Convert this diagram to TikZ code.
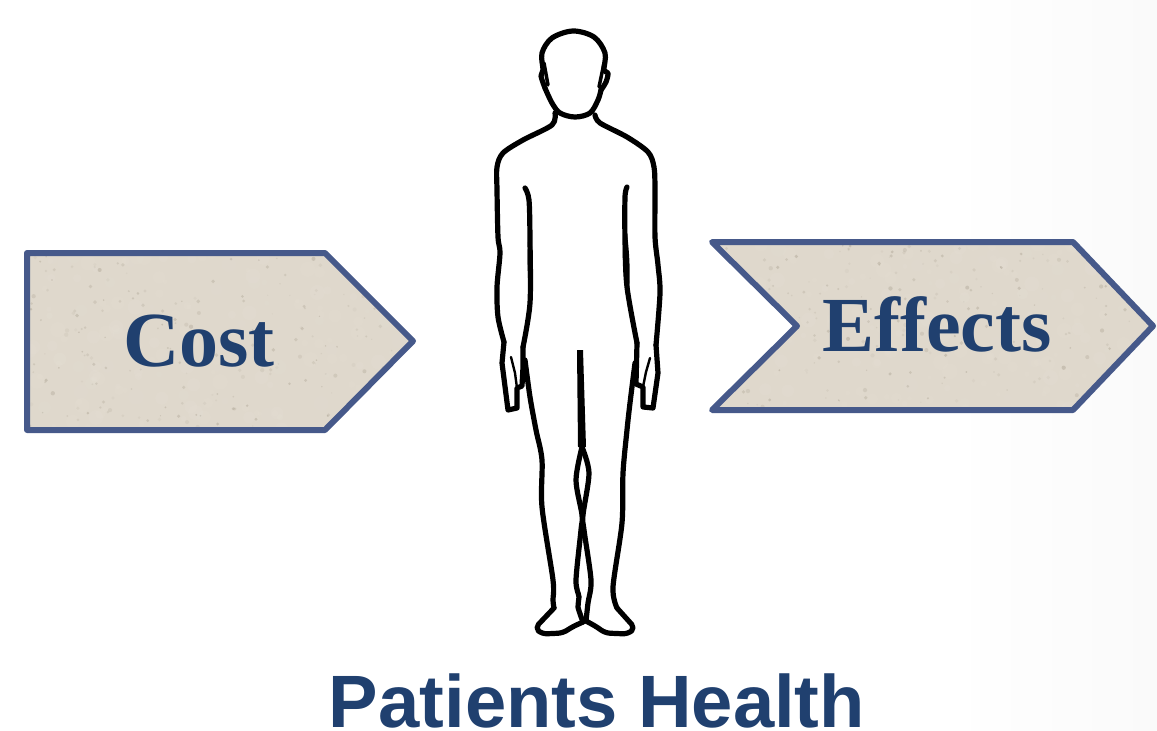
\documentclass[tikz,border=0pt]{standalone}
\usepackage{fontspec}
\setmainfont{Liberation Serif}
\setsansfont{Liberation Sans}
\definecolor{edgeblue}{HTML}{46598A}
\definecolor{textblue}{HTML}{20406F}
\definecolor{paper}{HTML}{DFD8CC}
\definecolor{speck}{HTML}{9A917F}
\definecolor{pale}{HTML}{E8E2D8}
\tikzset{
  tag/.style={draw=edgeblue,line width=6pt,line join=round},
  tagtext/.style={font=\rmfamily\bfseries\fontsize{78}{78}\selectfont,text=textblue,inner sep=0pt,anchor=base},
  titletext/.style={font=\sffamily\bfseries\fontsize{74.2}{74}\selectfont,text=textblue,inner sep=0pt,anchor=base},
  body/.style={draw=black,line width=5.2pt,line cap=round,line join=round},
  bodythin/.style={draw=black,line width=2.4pt,line cap=round}
}
\newcommand{\specks}[4]{%
  \foreach \i in {1,...,200}{%
    \pgfmathsetmacro{\sx}{#1+rnd*(#3-#1)}%
    \pgfmathsetmacro{\sy}{#2+rnd*(#4-#2)}%
    \pgfmathsetmacro{\sr}{2+rnd*6}%
    \pgfmathsetmacro{\so}{0.08+rnd*0.12}%
    \fill[pale,opacity=\so] (\sx,\sy) circle[radius=\sr];
  }%
  \foreach \i in {1,...,220}{%
    \pgfmathsetmacro{\sx}{#1+rnd*(#3-#1)}%
    \pgfmathsetmacro{\sy}{#2+rnd*(#4-#2)}%
    \pgfmathsetmacro{\sr}{0.6+rnd*1.6}%
    \pgfmathsetmacro{\so}{0.06+rnd*0.28}%
    \fill[speck,opacity=\so] (\sx,\sy) circle[radius=\sr];
  }}
\begin{document}
\begin{tikzpicture}[x=1pt,y=-1pt]
\useasboundingbox (0,0) rectangle (1157,731);
\pgfmathsetseed{4242}
% faint background tone on the right
\shade[left color=white,right color=black!2] (950,0) rectangle (1157,731);
% Cost tag
\fill[paper] (27,253) -- (325,253) -- (413,341) -- (325,430) -- (27,430) -- cycle;
\begin{scope}
\clip (27,253) -- (325,253) -- (413,341) -- (325,430) -- (27,430) -- cycle;
\specks{27}{253}{413}{430}
\end{scope}
\draw[tag] (27,253) -- (325,253) -- (413,341) -- (325,430) -- (27,430) -- cycle;
\node[tagtext] (cost) at (199,366) {Cost};
% Effects tag
\fill[paper] (712,242) -- (1073,242) -- (1153,326) -- (1073,410) -- (712,410) -- (797,326) -- cycle;
\begin{scope}
\clip (712,242) -- (1073,242) -- (1153,326) -- (1073,410) -- (712,410) -- (797,326) -- cycle;
\specks{712}{242}{1153}{410}
\end{scope}
\draw[tag] (712,242) -- (1073,242) -- (1153,326) -- (1073,410) -- (712,410) -- (797,326) -- cycle;
\node[tagtext] (effects) at (937,351) {Effects};
% Figure: head
\draw[body] plot[smooth,tension=0.55] coordinates {(545,88) (541,76) (543,70) (542,53) (552,38) (573,31) (594,37) (605,53) (604,70) (608,73) (606,82) (601,90)};
\draw[body] plot[smooth,tension=0.55] coordinates {(545,88) (552,103) (560,113) (575,117) (590,113) (598,100) (601,90)};
\draw[body,line width=3.5pt] (544,63) -- (548,85);
\draw[body,line width=3.5pt] (604,63) -- (599,87);
% shoulders and outer arms
\draw[body] plot[smooth,tension=0.5] coordinates {(555,113) (552,125) (523,140) (503,153) (497,167) (497,190) (498,237) (500,253) (497,287) (498,317) (504,342)};
\draw[body] plot[smooth,tension=0.5] coordinates {(595,115) (600,123) (627,137) (648,152) (654,167) (655,190) (655,237) (658,265) (660,293) (656,345)};
% left hand
\draw[body] (504,342) -- (502,363) -- (508,410) -- (517,408) -- (517,388) -- (522,386) -- (523,367) -- (523,347);
\draw[bodythin] (511,357) -- (515,373) -- (517,388);
% right hand
\draw[body] (656,345) -- (658,373) -- (653,408) -- (643,407) -- (643,387) -- (636,384) -- (637,343);
\draw[bodythin] (650,358) -- (646,372) -- (643,387);
% inner arms / torso sides
\draw[body] plot[smooth,tension=0.5] coordinates {(525,188) (529,200) (530,240) (530,303) (523,347)};
\draw[body] plot[smooth,tension=0.5] coordinates {(627,187) (625,197) (625,240) (627,287) (637,343)};
\fill[black] (529,225) .. controls (534,250) and (534,280) .. (530,300) .. controls (527,280) and (527,250) .. cycle;
\fill[black] (625,220) .. controls (621,250) and (623,280) .. (628,300) .. controls (631,280) and (630,250) .. cycle;
% legs
\draw[body] plot[smooth,tension=0.5] coordinates {(525,360) (530,397) (536,430) (542,460) (542,507) (553,580) (553,600) (554,608)};
\draw[body,rounded corners=5pt] (554,608) -- (535,628) -- (542,634) -- (563,633) -- (572,627) -- (583,622);
\draw[body] plot[smooth,tension=0.5] coordinates {(583,622) (578,607) (579,597) (576,580) (581,530) (582,515) (576,480) (582,447)};
\draw[body] plot[smooth,tension=0.5] coordinates {(635,363) (630,403) (627,430) (623,473) (622,523) (613,587) (617,608)};
\draw[body,rounded corners=5pt] (617,608) -- (635,628) -- (628,634) -- (605,633) -- (597,627) -- (586,621);
\draw[body] plot[smooth,tension=0.5] coordinates {(586,621) (588,603) (591,580) (584,530) (583,515) (589,473) (582,447)};
% crotch line
\fill[black] (577,350) -- (583,350) -- (586,447) -- (578,447) -- cycle;
% title
\node[titletext] (title) at (597,727) {Patients Health};
\end{tikzpicture}
\end{document}
